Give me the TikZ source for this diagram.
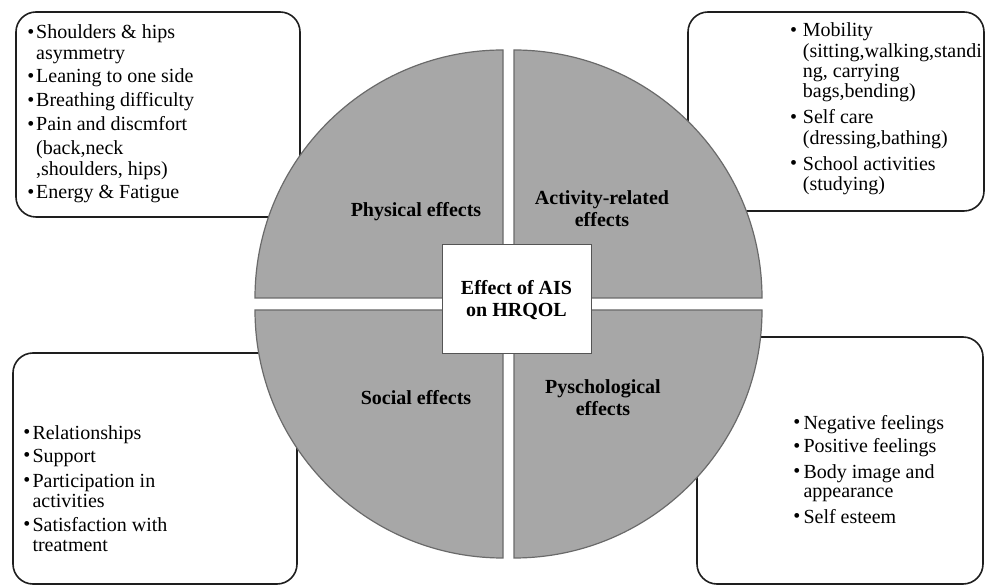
\documentclass[tikz,border=0pt]{standalone}
\usepackage{fontspec}
\setmainfont{Liberation Serif}
\definecolor{quadgray}{HTML}{A7A7A7}
\definecolor{quadedge}{HTML}{6A6A6A}
\definecolor{hubedge}{HTML}{555555}
\definecolor{paneledge}{HTML}{1E1E1E}
% raised bullet used in the lists
\newcommand\bul{\raisebox{0.6pt}{\fontsize{20}{20}\selectfont\textbullet}}
\tikzset{
  panel/.style={draw=paneledge, line width=1.6pt, fill=white, rounded corners=20pt},
  quad/.style={fill=quadgray, draw=quadedge, line width=1.2pt},
  hub/.style={draw=hubedge, line width=0.9pt, fill=white},
  listtext/.style={inner sep=0pt, anchor=base west, text=black},
  sectlabel/.style={inner sep=0pt, anchor=base, text=black, font=\bfseries\fontsize{20}{21.6}\selectfont},
}
\begin{document}
\begin{tikzpicture}[x=1pt, y=1pt]
\useasboundingbox (0,0) rectangle (985,586);
\fill[white] (0,0) rectangle (985,586);

% outer rounded panels (behind the disc)
\draw[panel] (16,369) rectangle (300,574);
\draw[panel] (688,375) rectangle (984,574);
\draw[panel] (13,2) rectangle (297,233);
\draw[panel] (697,2) rectangle (983,249);

% four quarters of the disc, pulled apart
\draw[quad] (503,288) -- (255,288) arc[start angle=180, end angle=90, radius=248pt] -- cycle;
\draw[quad] (514,288) -- (514,536) arc[start angle=90, end angle=0, radius=248pt] -- cycle;
\draw[quad] (503,276) -- (255,276) arc[start angle=180, end angle=270, radius=248pt] -- cycle;
\draw[quad] (514,276) -- (762,276) arc[start angle=0, end angle=-90, radius=248pt] -- cycle;

% central box
\draw[hub] (442,233) rectangle (591,342);

% quarter labels
\node[sectlabel] (phys) at (416,369) {Physical effects};
\node[sectlabel] (act) at (602,381) {\begin{tabular}[t]{@{}c@{}}Activity-related\\effects\end{tabular}};
\node[sectlabel] (hubtext) at (516.5,291) {\begin{tabular}[t]{@{}c@{}}Effect of AIS\\on HRQOL\end{tabular}};
\node[sectlabel] (soc) at (416,181) {Social effects};
\node[sectlabel] (psy) at (603,192) {\begin{tabular}[t]{@{}c@{}}Pyschological\\effects\end{tabular}};

% physical effects list
\node[listtext, font=\fontsize{20}{21}\selectfont] (physlist) at (27.2,547) {%
\begin{tabular}[t]{@{}l@{\hspace{1.8pt}}l@{}}
\bul & Shoulders \& hips\\
     & asymmetry\\[2pt]
\bul & Leaning to one side\\[3pt]
\bul & Breathing difficulty\\[3pt]
\bul & Pain and discmfort\\[3pt]
     & (back,neck\\
     & ,shoulders, hips)\\[2pt]
\bul & Energy \& Fatigue
\end{tabular}};

% activity-related list
\node[listtext, font=\fontsize{20}{20.3}\selectfont] (actlist) at (789.8,549) {%
\begin{tabular}[t]{@{}l@{\hspace{5.9pt}}l@{}}
\bul & Mobility\\
     & (sitting,walking,standi\\
     & ng, carrying\\
     & bags,bending)\\[5.5pt]
\bul & Self care\\[0.5pt]
     & (dressing,bathing)\\[5.5pt]
\bul & School activities\\
     & (studying)
\end{tabular}};

% social effects list
\node[listtext, font=\fontsize{20}{20}\selectfont] (soclist) at (23.2,146.5) {%
\begin{tabular}[t]{@{}l@{\hspace{2.1pt}}l@{}}
\bul & Relationships\\[3pt]
\bul & Support\\[5pt]
\bul & Participation in\\
     & activities\\[4pt]
\bul & Satisfaction with\\
     & treatment
\end{tabular}};

% psychological effects list
\node[listtext, font=\fontsize{20}{19.5}\selectfont] (psylist) at (793.2,156.5) {%
\begin{tabular}[t]{@{}l@{\hspace{3.1pt}}l@{}}
\bul & Negative feelings\\[3.5pt]
\bul & Positive feelings\\[5.5pt]
\bul & Body image and\\
     & appearance\\[5.5pt]
\bul & Self esteem
\end{tabular}};
\end{tikzpicture}
\end{document}
